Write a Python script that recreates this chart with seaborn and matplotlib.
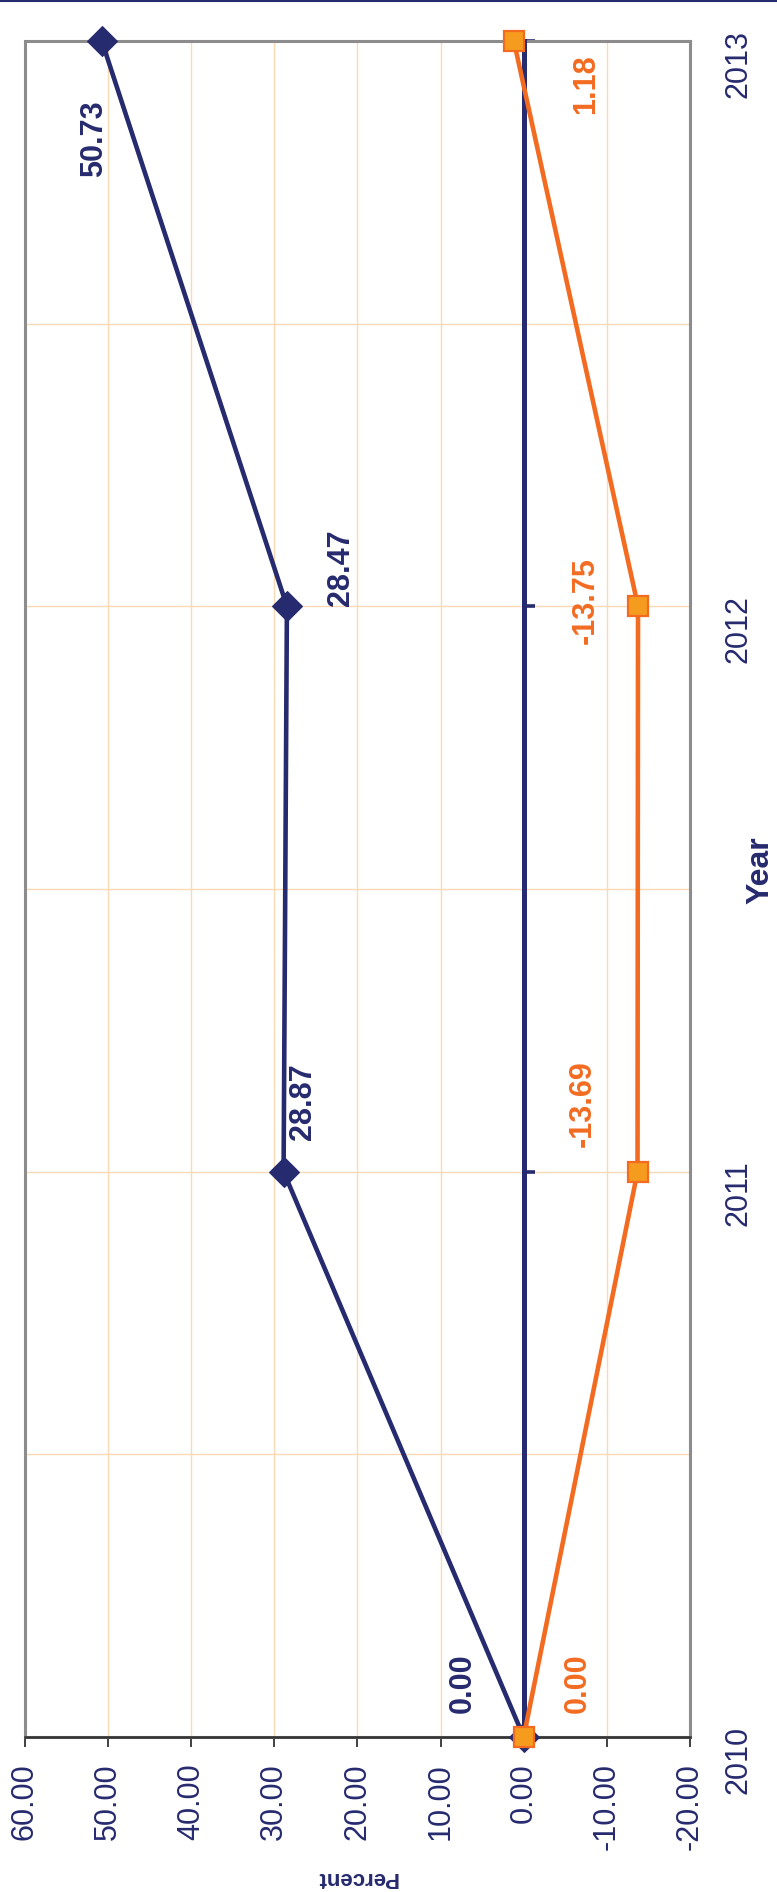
import matplotlib
matplotlib.use("Agg")
import matplotlib.pyplot as plt
import seaborn as sns
import pandas as pd
from matplotlib.patches import Rectangle
from matplotlib.lines import Line2D
from matplotlib.ticker import MultipleLocator, FormatStrFormatter

# ---- data ----
years = [2010, 2011, 2012, 2013]
series_a = [0.00, 28.87, 28.47, 50.73]      # navy series
series_b = [0.00, -13.69, -13.75, 1.18]     # orange series
pct_ticks = [60, 50, 40, 30, 20, 10, 0, -10, -20]

# ---- styles ----
NAVY = "#262A6E"
ORANGE = "#F26B21"
ORANGE_FILL = "#F59C1F"
GRID = "#FAD9B5"
FRAME = "#8C8C8C"

sns.set_theme(style="white")
plt.rcParams["font.family"] = ["Liberation Sans", "DejaVu Sans"]

W, H, DPI = 777, 1892, 100
fig = plt.figure(figsize=(W / DPI, H / DPI), dpi=DPI)
ax = fig.add_axes([24.7 / W, 1 - 1737 / H, (690 - 24.7) / W, (1737 - 41) / H])

df = pd.DataFrame({"Year": years, "A": series_a, "B": series_b})

sns.lineplot(data=df, x="A", y="Year", sort=False, ax=ax, color=NAVY,
             linewidth=3.3, marker="D", markersize=15, markeredgecolor=NAVY,
             markerfacecolor=NAVY, clip_on=False, zorder=5)
sns.lineplot(data=df, x="B", y="Year", sort=False, ax=ax, color=ORANGE,
             linewidth=3.3, marker="s", markersize=14, markeredgecolor=ORANGE,
             markeredgewidth=1.6, markerfacecolor=ORANGE_FILL, clip_on=False, zorder=6)

ax.set_xlim(max(pct_ticks), min(pct_ticks))
ax.set_ylim(min(years), max(years))

# grid
ax.set_xticks(pct_ticks)
ax.xaxis.set_major_formatter(FormatStrFormatter("%.2f"))
ax.set_yticks(years)
ax.yaxis.set_minor_locator(MultipleLocator(0.5))
ax.grid(True, which="both", color=GRID, linewidth=1.0)
ax.set_axisbelow(True)

# frame
for s in ["top", "right"]:
    ax.spines[s].set_visible(False)
ax.add_patch(Rectangle((0, 0), 1, 1, transform=ax.transAxes, fill=False,
                       edgecolor=FRAME, linewidth=2.2, clip_on=False, zorder=1))
ax.spines["bottom"].set_color("#333333")
ax.spines["bottom"].set_linewidth(1.8)
ax.spines["bottom"].set_zorder(3)

# zero line acting as category axis
ax.spines["left"].set_position(("data", 0))
ax.spines["left"].set_color(NAVY)
ax.spines["left"].set_linewidth(3.6)
ax.spines["left"].set_zorder(4)

ax.tick_params(axis="y", which="major", direction="in", left=True, right=False,
               labelleft=False, labelright=True, length=8, width=2.6,
               color=NAVY, pad=24, labelsize=22, labelcolor=NAVY, labelrotation=90)
ax.tick_params(axis="y", which="minor", left=False, right=False, length=0)
ax.tick_params(axis="x", direction="out", bottom=True, length=7, width=1.3,
               color="#333333", pad=12, labelsize=22, labelcolor=NAVY,
               labelrotation=90)
for lab in ax.get_xticklabels():
    lab.set_va("top")
    lab.set_ha("center")

ax.set_xlabel("")
ax.set_ylabel("")

# data labels
off_a = [(-61, 54), (19, 70), (54, 39), (-8, -98)]
off_b = [(54, 54), (-55, 68), (-52, 6), (72, -43)]
for yr, v, (dx, dy) in zip(years, series_a, off_a):
    ax.annotate(f"{v:.2f}", (v, yr), xytext=(dx, dy), textcoords="offset pixels",
                ha="center", va="center", rotation=90, fontsize=22,
                fontweight="bold", color=NAVY, annotation_clip=False, zorder=7)
for yr, v, (dx, dy) in zip(years, series_b, off_b):
    ax.annotate(f"{v:.2f}", (v, yr), xytext=(dx, dy), textcoords="offset pixels",
                ha="center", va="center", rotation=90, fontsize=22,
                fontweight="bold", color=ORANGE, annotation_clip=False, zorder=7)

# axis titles
fig.text(760 / W, 1 - 870 / H, "Year", rotation=90, ha="center", va="center",
         fontsize=23, fontweight="bold", color=NAVY)
fig.text(357 / W, 1 - 1877 / H, "Percent", rotation=180, ha="center", va="center",
         fontsize=16, fontweight="bold", color=NAVY)

# top border line
fig.add_artist(Line2D([0, 1], [1 - 1.0 / H, 1 - 1.0 / H], transform=fig.transFigure,
                      color=NAVY, linewidth=1.5))

fig.savefig("out.png", dpi=DPI)
